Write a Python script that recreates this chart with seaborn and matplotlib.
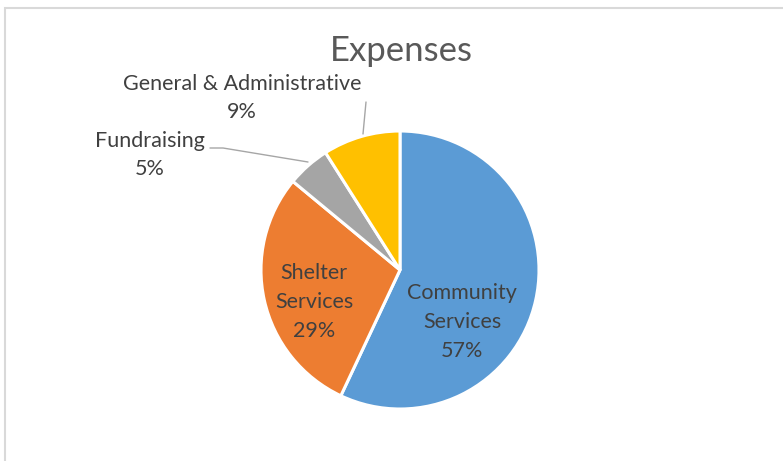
import numpy as np
import matplotlib
matplotlib.use("Agg")
import matplotlib.pyplot as plt
import seaborn as sns
from matplotlib.patches import Rectangle

# ── Data ───────────────────────────────────────────────
categories = ["Community\nServices", "Shelter\nServices", "Fundraising",
              "General & Administrative"]
shares = [57, 29, 5, 9]
colors = ["#5B9BD5", "#ED7D31", "#A5A5A5", "#FFC000"]

TEXT = "#404040"
TITLE = "#595959"
LEADER = "#A6A6A6"

sns.set_theme(style="white")
plt.rcParams["font.family"] = ["Lato", "DejaVu Sans"]

W, H = 783, 461
fig = plt.figure(figsize=(W / 100, H / 100), dpi=100)
fig.patch.set_facecolor("white")

# chart-area border (only top/left visible in the crop)
fig.add_artist(Rectangle((5 / W, -0.1), 1.2, (H - 8) / H + 0.1,
                         transform=fig.transFigure, fill=False,
                         edgecolor="#D9D9D9", linewidth=1.5))

# pie axes: centre (400, 270) px, radius 139 px
cx, cy, r = 400, 270, 139
ax = fig.add_axes([(cx - r) / W, (H - cy - r) / H, 2 * r / W, 2 * r / H])
ax.pie(shares, colors=colors, startangle=90, counterclock=False,
       wedgeprops={"edgecolor": "white", "linewidth": 2.2})
ax.set_xlim(-1, 1)
ax.set_ylim(-1, 1)
ax.set_aspect("equal")
ax.axis("off")


def px(x, y):
    """pixel position -> pie data coordinates"""
    return (x - cx) / r, (cy - y) / r


fig.text(0.5 * (331 + 472) / W, 1 - 51 / H, "Expenses", ha="center",
         va="center", fontsize=25, color=TITLE)

pct = [f"{v}%" for v in shares]
label_px = [(462, 322), (314, 302), (150, 155), (242, 98)]
for name, p, (lx, ly) in zip(categories, pct, label_px):
    x, y = px(lx, ly)
    ax.text(x, y, f"{name}\n{p}", ha="center", va="center",
            fontsize=15.5, color=TEXT, linespacing=1.55)

# leader lines for the small slices
fx, fy = zip(px(210, 148), px(223, 148), px(308, 162))
ax.plot(fx, fy, color=LEADER, linewidth=1, clip_on=False)
gx, gy = zip(px(366, 102), px(363, 134))
ax.plot(gx, gy, color=LEADER, linewidth=1, clip_on=False)

fig.savefig("out.png", dpi=100, facecolor="white")
